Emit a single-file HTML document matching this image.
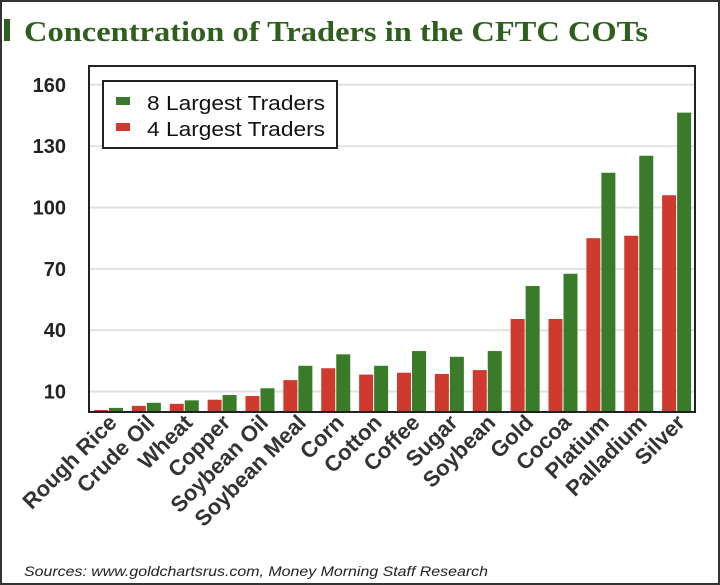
<!DOCTYPE html>
<html><head><meta charset="utf-8"><style>
html,body{margin:0;padding:0;background:#fff}
svg{display:block}
</style></head><body>
<svg id="chart" width="720" height="585" xmlns="http://www.w3.org/2000/svg">
<rect x="1" y="1" width="718" height="583" fill="#fff" stroke="#333" stroke-width="2"/>
<rect x="4" y="19" width="6" height="22" fill="#2f5f1e"/>
<text x="24" y="41" font-family="Liberation Serif, serif" font-weight="bold" font-size="29" fill="#2f5f1e" textLength="624" lengthAdjust="spacingAndGlyphs">Concentration of Traders in the CFTC COTs</text>
<g id="grid"></g>
<g id="bars"></g>
<rect x="89" y="66" width="606" height="346" fill="none" stroke="#222" stroke-width="2"/>
<g id="yticks"></g>
<g id="xlabels"></g>
<g>
<rect x="103" y="81" width="234" height="67" fill="#fff" stroke="#222" stroke-width="2"/>
<rect x="116" y="97" width="14" height="8" fill="#3a7b2a"/>
<text x="147" y="110" font-family="Liberation Sans, sans-serif" font-size="20" fill="#111" textLength="178" lengthAdjust="spacingAndGlyphs">8 Largest Traders</text>
<rect x="116" y="123" width="14" height="8" fill="#cf3a2e"/>
<text x="147" y="136" font-family="Liberation Sans, sans-serif" font-size="20" fill="#111" textLength="178" lengthAdjust="spacingAndGlyphs">4 Largest Traders</text>
</g>
<text x="24" y="576" font-family="Liberation Sans, sans-serif" font-style="italic" font-size="14" fill="#222" textLength="464" lengthAdjust="spacingAndGlyphs">Sources: www.goldchartsrus.com, Money Morning Staff Research</text>
</svg>
<script>
const categories = ["Rough Rice","Crude Oil","Wheat","Copper","Soybean Oil","Soybean Meal","Corn","Cotton","Coffee","Sugar","Soybean","Gold","Cocoa","Platium","Palladium","Silver"];
const largest4 = [1,3,4,6,7.8,15.6,21.4,18.3,19.2,18.6,20.5,45.5,45.5,85,86.2,106];
const largest8 = [2,4.5,5.7,8.3,11.6,22.6,28.2,22.6,29.8,27,29.8,61.6,67.6,117,125.3,146.4];
const yTicks = [10,40,70,100,130,160];

const NS = "http://www.w3.org/2000/svg";
const plotL = 89, plotR = 695, base = 412, pxPerUnit = 2.045;
const y = v => base - v * pxPerUnit;
const groupW = (plotR - plotL) / categories.length;
const xg = i => plotL + 5 + i * groupW;
const bw = 14;
function mk(tag, attrs, parent) {
  const e = document.createElementNS(NS, tag);
  for (const k in attrs) e.setAttribute(k, attrs[k]);
  parent.appendChild(e);
  return e;
}
const grid = document.getElementById('grid');
const yt = document.getElementById('yticks');
yTicks.forEach(t => {
  const l = mk('line', {x1: plotL, x2: plotR, y1: y(t), y2: y(t), stroke: '#e2e2e2', 'stroke-width': 2}, grid);
  
  
  const tx = mk('text', {x: 66, y: y(t) + 7, 'text-anchor': 'end', 'font-family': 'Liberation Sans, sans-serif', 'font-weight': 'bold', 'font-size': 20, fill: '#222'}, yt);
  tx.textContent = t;
  
  
});
const bars = document.getElementById('bars');
const xl = document.getElementById('xlabels');
categories.forEach((c, i) => {
  const r = mk('rect', {x: xg(i), y: y(largest4[i]), width: bw, height: base - y(largest4[i]), fill: '#cf3a2e'}, bars);
  
  
  const g = mk('rect', {x: xg(i) + bw + 1, y: y(largest8[i]), width: bw, height: base - y(largest8[i]), fill: '#3a7b2a'}, bars);
  
  
  const lx = xg(i) + bw + 10, ly = 424;
  const t = mk('text', {x: lx, y: ly, 'text-anchor': 'end', transform: `rotate(-45 ${lx} ${ly})`, 'font-family': 'Liberation Sans, sans-serif', 'font-weight': 'bold', 'font-size': 22, fill: '#333'}, xl);
  t.textContent = c;
  
  
});
</script>
</body></html>
